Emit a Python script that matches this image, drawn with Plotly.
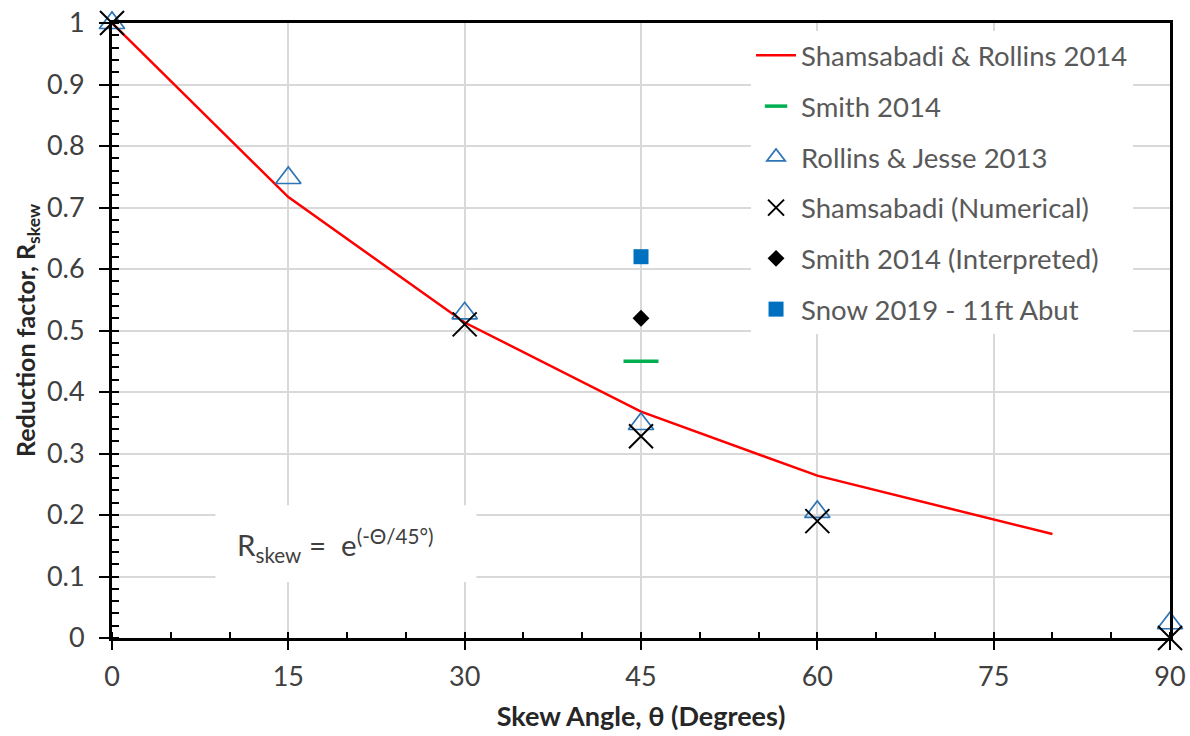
import plotly.graph_objects as go

# ---- data ----
fit_x = [0, 15, 30, 45, 60, 80]
fit_y = [1.0, 0.717, 0.513, 0.368, 0.264, 0.169]

smith_x = [45]
smith_y = [0.45]

rj_x = [0, 15, 30, 45, 60, 90]
rj_y = [1.0, 0.748, 0.528, 0.348, 0.205, 0.024]

sham_x = [0, 30, 45, 60, 90]
sham_y = [1.0, 0.51, 0.328, 0.19, 0.0]

smith_int_x = [45]
smith_int_y = [0.52]

snow_x = [45]
snow_y = [0.62]

x_ticks = [0, 15, 30, 45, 60, 75, 90]
y_ticks = [0, 0.1, 0.2, 0.3, 0.4, 0.5, 0.6, 0.7, 0.8, 0.9, 1]
y_ticklabels = ["0", "0.1", "0.2", "0.3", "0.4", "0.5", "0.6", "0.7", "0.8", "0.9", "1"]

FONT = "Lato"
TXT = "#404040"
TITLE = "#262626"

fig = go.Figure()
fig.add_trace(go.Scatter(x=fit_x, y=fit_y, mode="lines", name="Shamsabadi & Rollins 2014",
                         line=dict(color="#ff0000", width=2.5), legendgroup="a", cliponaxis=False))
fig.add_trace(go.Scatter(x=smith_x, y=smith_y, mode="markers", name="Smith 2014",
                         marker=dict(symbol="line-ew-open", size=25, color="#00b050",
                                     line=dict(color="#00b050", width=3.5)),
                         legendgroup="b", cliponaxis=False))
fig.add_trace(go.Scatter(x=rj_x, y=rj_y, mode="markers", name="Rollins & Jesse 2013",
                         marker=dict(symbol="triangle-up-open", size=22, color="#2e75b6",
                                     line=dict(color="#2e75b6", width=1.7)),
                         legendgroup="c", cliponaxis=False))
fig.add_trace(go.Scatter(x=sham_x, y=sham_y, mode="markers", name="Shamsabadi (Numerical)",
                         marker=dict(symbol="x-thin-open", size=24, color="black",
                                     line=dict(color="black", width=2)),
                         legendgroup="d", cliponaxis=False))
fig.add_trace(go.Scatter(x=smith_int_x, y=smith_int_y, mode="markers", name="Smith 2014 (Interpreted)",
                         marker=dict(symbol="diamond", size=13, color="black"),
                         legendgroup="e", cliponaxis=False))
fig.add_trace(go.Scatter(x=snow_x, y=snow_y, mode="markers", name="Snow 2019 - 11ft Abut",
                         marker=dict(symbol="square", size=15, color="#0070c0"),
                         legendgroup="f", cliponaxis=False))

# white box behind the equation, hiding gridlines
fig.add_shape(type="rect", xref="x", yref="y", x0=8.8, x1=31.0, y0=0.091, y1=0.216,
              fillcolor="white", line=dict(width=0), layer="between")
fig.add_annotation(x=19.0, y=0.151, xref="x", yref="y", showarrow=False,
                   text="R<sub>skew</sub> =  e<sup>(-Θ/45°)</sup>",
                   font=dict(family=FONT, size=29.5, color=TXT))

fig.update_xaxes(range=[0, 90], tickvals=x_ticks, ticktext=[str(v) for v in x_ticks],
                 showline=True, linecolor="black", linewidth=3, mirror=True,
                 ticks="outside", ticklen=9, tickwidth=2, tickcolor="black",
                 ticklabelstandoff=4, ticklabeloverflow="allow",
                 minor=dict(ticks="inside", dtick=5, ticklen=6, tickwidth=2, tickcolor="black", showgrid=False),
                 showgrid=True, gridcolor="#d9d9d9", gridwidth=1.5, zeroline=False,
                 tickfont=dict(family=FONT, size=27, color=TXT),
                 title=dict(text="<b>Skew Angle, θ (Degrees)</b>", standoff=16,
                            font=dict(family=FONT, size=27, color=TITLE)))
fig.update_yaxes(range=[0, 1], tickvals=y_ticks, ticktext=y_ticklabels,
                 showline=True, linecolor="black", linewidth=3, mirror=True,
                 ticks="outside", ticklen=10, tickwidth=2, tickcolor="black",
                 ticklabelstandoff=9, ticklabeloverflow="allow",
                 minor=dict(ticks="inside", dtick=0.02, ticklen=7, tickwidth=2, tickcolor="black", showgrid=False),
                 showgrid=True, gridcolor="#d9d9d9", gridwidth=1.5, zeroline=False,
                 tickfont=dict(family=FONT, size=27, color=TXT),
                 title=dict(text="<b>Reduction factor, R<sub>skew</sub></b>", standoff=5,
                            font=dict(family=FONT, size=25, color=TITLE)))

fig.update_layout(
    width=1190, height=736,
    margin=dict(l=112, r=20, t=23, b=98, autoexpand=False),
    paper_bgcolor="white", plot_bgcolor="white",
    showlegend=True,
    legend=dict(x=0.604, y=0.987, xanchor="left", yanchor="top",
                bgcolor="white", borderwidth=0, tracegroupgap=12, traceorder="grouped",
                font=dict(family=FONT, size=27.5, color="#595959"), itemwidth=40),
)

# remove the default page margin so the figure fills the window exactly
fig.write_html("out.html", config={"displayModeBar": False},
               post_script="document.body.style.margin='0';")
